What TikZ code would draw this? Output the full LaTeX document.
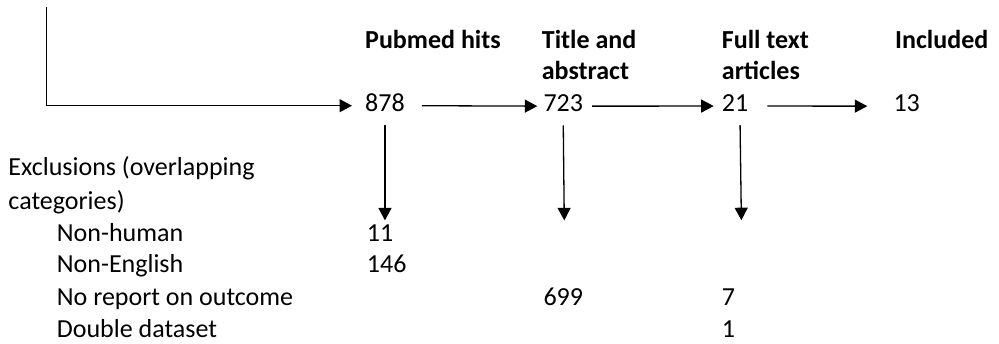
\documentclass[tikz,border=0pt]{standalone}
\usepackage{fontspec}
\setmainfont{Carlito}
\usetikzlibrary{arrows.meta}
\begin{document}
\begin{tikzpicture}[x=1pt,y=-1pt,
  txt/.style={anchor=base west,inner sep=0pt,font=\fontsize{26}{31}\selectfont},
  hdr/.style={txt,font=\fontsize{26}{31}\selectfont\bfseries},
  arr/.style={line width=1.3pt,-{Triangle[length=12.5pt,width=13pt]}}]
\useasboundingbox (0,0) rectangle (999,344);

% column headings
\node[hdr] (hPub)  at (365,48.3) {Pubmed hits};
\node[hdr] (hTit1) at (541.7,48.3) {Title and};
\node[hdr] (hTit2) at (541.7,80) {abstract};
\node[hdr] (hFul1) at (721.7,48.3) {Full text};
\node[hdr] (hFul2) at (721.7,80) {articles};
\node[hdr] (hInc)  at (895,48.3) {Included};

% counts along the flow
\node[txt] (n878) at (365,112) {878};
\node[txt] (n723) at (543.3,112) {723};
\node[txt] (n21)  at (721.7,112) {21};
\node[txt] (n13)  at (893.3,112) {13};

% exclusion table
\node[txt] (ex1) at (8.3,176) {Exclusions (overlapping};
\node[txt] (ex2) at (8.3,210) {categories)};
\node[txt] (r1) at (56.7,242) {Non-human};
\node[txt] (r2) at (56.7,273) {Non-English};
\node[txt] (r3) at (56.7,306) {No report on outcome};
\node[txt] (r4) at (56.7,338) {Double dataset};
\node[txt] (c11)  at (366.7,242) {11};
\node[txt] (c146) at (366.7,273) {146};
\node[txt] (c699) at (543.3,306) {699};
\node[txt] (c7)   at (721.7,306) {7};
\node[txt] (c1)   at (721.7,338) {1};

% incoming line
\coordinate (start) at (46.7,7);
\draw[arr] (start) |- ([xshift=-13pt,yshift=-2.5pt]n878.west);

% flow arrows
\draw[arr] ([xshift=17pt,yshift=-2.5pt]n878.east) -- ([xshift=-6pt,yshift=-2.5pt]n723.west);
\draw[arr] ([xshift=9pt,yshift=-2.5pt]n723.east) -- ([xshift=-8pt,yshift=-2.5pt]n21.west);
\draw[arr] ([xshift=19pt,yshift=-2.5pt]n21.east) -- ([xshift=-26pt,yshift=-2.5pt]n13.west);

% exclusion arrows
\draw[arr] ([yshift=-13pt]n878.south) -- ++(0,95);
\draw[arr] ([yshift=-13pt]n723.south) -- ++(1,95);
\draw[arr] ([xshift=5pt,yshift=-13pt]n21.south) -- ++(1.3,95);
\end{tikzpicture}
\end{document}
